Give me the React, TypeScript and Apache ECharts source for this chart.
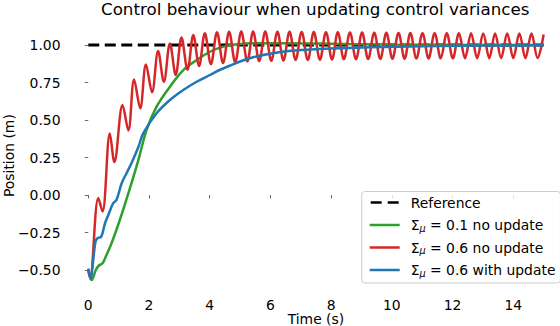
import React, { useEffect, useRef } from "react";
import * as echarts from "echarts";

// ---- data ----
const seriesNames = [
  "Reference",
  "Σμ = 0.1 no update",
  "Σμ = 0.6 no update",
  "Σμ = 0.6 with update",
];
const xTicks = [0, 2, 4, 6, 8, 10, 12, 14];
const yTicks = [-0.5, -0.25, 0, 0.25, 0.5, 0.75, 1.0];

const refT = [0, 15];
const refV = [1, 1];

const greenT = [0, 0.11, 0.25, 0.35, 0.47, 0.6, 0.77, 1.0, 1.32, 1.65, 1.92, 2.25, 2.69, 3.13, 3.57, 4.01, 4.45, 4.9, 5.5, 6.5, 7.5, 8.5, 10, 12, 15];
const greenV = [-0.5, -0.567, -0.5, -0.47, -0.455, -0.4, -0.32, -0.19, 0.011, 0.233, 0.433, 0.589, 0.722, 0.833, 0.9, 0.955, 0.989, 1.005, 1.012, 1.012, 1.01, 1.006, 1.003, 1.001, 1.0];

const redT = [0, 0.06, 0.33, 0.47, 0.71, 0.86, 1.13, 1.32, 1.51, 1.71, 1.9, 2.1, 2.3, 2.49, 2.69, 2.88, 3.07, 3.27, 3.46, 3.65, 3.84, 4.04, 4.24, 4.44, 4.64, 4.84, 5.04, 5.24, 5.43, 5.63, 5.83, 6.03, 6.23, 6.43, 6.63, 6.83, 7.03, 7.23, 7.43, 7.63, 7.83, 8.03, 8.22, 8.42, 8.62, 8.82, 9.02, 9.22, 9.42, 9.62, 9.82, 10.02, 10.22, 10.42, 10.61, 10.81, 11.01, 11.21, 11.41, 11.61, 11.81, 12.01, 12.21, 12.41, 12.61, 12.81, 13.01, 13.21, 13.4, 13.6, 13.8, 14.0, 14.2, 14.4, 14.6, 14.8, 15.0];
const redV = [-0.5, -0.555, -0.02, -0.11, 0.41, 0.22, 0.6, 0.43, 0.77, 0.578, 0.87, 0.685, 0.96, 0.755, 1.01, 0.8, 1.05, 0.835, 1.067, 0.86, 1.078, 0.872, 1.085, 0.88, 1.088, 0.885, 1.09, 0.89, 1.09, 0.892, 1.09, 0.895, 1.088, 0.897, 1.088, 0.9, 1.087, 0.9, 1.086, 0.902, 1.085, 0.903, 1.085, 0.905, 1.084, 0.905, 1.083, 0.906, 1.082, 0.907, 1.081, 0.908, 1.08, 0.909, 1.08, 0.91, 1.079, 0.91, 1.079, 0.911, 1.078, 0.911, 1.078, 0.912, 1.078, 0.912, 1.077, 0.912, 1.077, 0.913, 1.077, 0.913, 1.077, 0.913, 1.077, 0.913, 1.07];

const blueT = [0, 0.08, 0.16, 0.24, 0.32, 0.42, 0.55, 0.66, 0.82, 0.93, 1.1, 1.26, 1.43, 1.65, 1.81, 2.25, 2.69, 3.13, 3.57, 4.01, 4.34, 4.64, 5.0, 5.43, 5.98, 6.53, 7.63, 9.28, 11, 13, 15];
const blueV = [-0.49, -0.555, -0.44, -0.31, -0.285, -0.28, -0.19, -0.133, -0.055, -0.033, 0.078, 0.145, 0.215, 0.32, 0.411, 0.545, 0.633, 0.7, 0.755, 0.8, 0.835, 0.86, 0.89, 0.918, 0.942, 0.958, 0.973, 0.985, 0.992, 0.996, 0.998];

const colors = ["#000000", "#2ca02c", "#d62728", "#1f77b4"];

const FONT = "DejaVu Sans";

function pairs(t: number[], v: number[]) {
  return t.map((x, i) => [x, v[i]]);
}

const dashedIcon = "path://M0,0h11v2.5h-11z M17,0h11v2.5h-11z";

export default function App() {
  const ref = useRef<HTMLDivElement>(null);
  useEffect(() => {
    if (!ref.current) return;
    const chart = echarts.init(ref.current, undefined, { renderer: "svg" });
    const fmtY = (v: number) => v.toFixed(2).replace("-", "\u2212");
    const option: any = {
      animation: false,
      backgroundColor: "#ffffff",
      textStyle: { fontFamily: FONT, color: "#000" },
      title: {
        text: "Control behaviour when updating control variances",
        left: 101,
        top: 0,
        padding: 0,
        textStyle: { fontFamily: FONT, fontSize: 16.7, fontWeight: "normal", color: "#000" },
      },
      grid: { left: 65.5, top: 18.75, width: 500.9, height: 273.75, containLabel: false, outerBoundsMode: "none" },
      xAxis: {
        type: "value",
        min: -0.75,
        max: 15.75,
        name: "Time (s)",
        nameLocation: "middle",
        nameGap: 20,
        nameMoveOverlap: false,
        nameTextStyle: { fontFamily: FONT, fontSize: 13.9, lineHeight: 13, color: "#000" },
        axisLine: { show: false },
        splitLine: { show: false },
        axisTick: { show: true, length: 3.5, customValues: xTicks, lineStyle: { color: "#444", width: 0.8 } },
        axisLabel: {
          customValues: xTicks,
          margin: 6,
          fontFamily: FONT,
          fontSize: 13.9,
          lineHeight: 13,
          color: "#000",
          formatter: (v: number) => String(v),
        },
      },
      yAxis: {
        type: "value",
        min: -0.65,
        max: 1.175,
        name: "Position (m)",
        nameLocation: "middle",
        nameGap: 50,
        nameMoveOverlap: false,
        nameTextStyle: { fontFamily: FONT, fontSize: 13.9, color: "#000" },
        axisLine: { show: false },
        splitLine: { show: false },
        axisTick: { show: true, length: 3.5, customValues: yTicks, lineStyle: { color: "#444", width: 0.8 } },
        axisLabel: {
          customValues: yTicks,
          margin: 5,
          fontFamily: FONT,
          fontSize: 13.9,
          color: "#000",
          formatter: fmtY,
        },
      },
      legend: {
        orient: "vertical",
        left: 361.7,
        top: 191.5,
        padding: [3, 5, 5, 8],
        itemWidth: 30,
        itemHeight: 2.5,
        itemGap: 6.5,
        backgroundColor: "rgba(255,255,255,0.8)",
        borderColor: "#cccccc",
        borderWidth: 1,
        borderRadius: 3,
        data: [
          { name: seriesNames[0], icon: dashedIcon },
          { name: seriesNames[1], icon: "rect" },
          { name: seriesNames[2], icon: "rect" },
          { name: seriesNames[3], icon: "rect" },
        ],
        formatter: (name: string) =>
          name.startsWith("Σ")
            ? `{s|Σ}{sub|μ}{t|${name.slice(2)}}`
            : `{t|${name}}`,
        textStyle: {
          fontFamily: FONT,
          fontSize: 13.9,
          color: "#000",
          lineHeight: 16,
          padding: [0, 0, 0, 6],
          rich: {
            s: { fontFamily: FONT, fontSize: 13.9, color: "#000", lineHeight: 16 },
            sub: { fontFamily: FONT, fontSize: 9.7, fontStyle: "italic", color: "#000", lineHeight: 8, verticalAlign: "bottom" },
            t: { fontFamily: FONT, fontSize: 13.9, color: "#000", lineHeight: 16 },
          },
        },
      },
      series: [
        {
          name: seriesNames[0],
          type: "line",
          data: pairs(refT, refV),
          symbol: "none",
          color: colors[0],
          lineStyle: { color: colors[0], width: 3, type: [11, 5.5] },
          z: 2,
        },
        {
          name: seriesNames[1],
          type: "line",
          data: pairs(greenT, greenV),
          symbol: "none",
          smooth: 0.35,
          color: colors[1],
          lineStyle: { color: colors[1], width: 2.5 },
          z: 3,
        },
        {
          name: seriesNames[2],
          type: "line",
          data: pairs(redT, redV),
          symbol: "none",
          smooth: 0.35,
          color: colors[2],
          lineStyle: { color: colors[2], width: 2.5 },
          z: 4,
        },
        {
          name: seriesNames[3],
          type: "line",
          data: pairs(blueT, blueV),
          symbol: "none",
          smooth: 0.35,
          color: colors[3],
          lineStyle: { color: colors[3], width: 2.5 },
          z: 5,
        },
      ],
    };
    chart.setOption(option);
    return () => chart.dispose();
  }, []);
  return <div ref={ref} style={{ width: 560, height: 326, position: "absolute", left: 0, top: 0 }} />;
}
